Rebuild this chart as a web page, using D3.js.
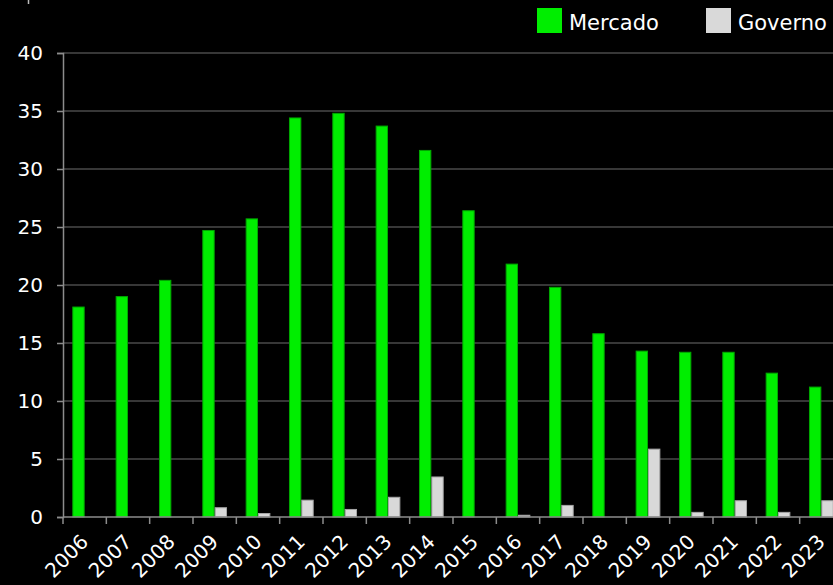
<!DOCTYPE html>
<html>
<head>
<meta charset="utf-8">
<script src="https://cdn.jsdelivr.net/npm/d3@7"></script>
<style>
  html, body { margin: 0; padding: 0; background: #000; overflow: hidden; }
  svg { display: block; }
  text { font-family: "DejaVu Sans", "Noto Sans", sans-serif; fill: #fff; }
</style>
</head>
<body>
<div id="chart"></div>
<script>
// chart data
const years = ['2006', '2007', '2008', '2009', '2010', '2011', '2012', '2013', '2014',
    '2015', '2016', '2017', '2018', '2019', '2020', '2021', '2022', '2023'];
const mercado = [18.1, 19.0, 20.4, 24.7, 25.7, 34.4, 34.8, 33.7, 31.6,
    26.4, 21.8, 19.8, 15.8, 14.3, 14.2, 14.2, 12.4, 11.2];
const governo = [0, 0, 0, 0.8, 0.3, 1.45, 0.65, 1.7, 3.45,
    0, 0.15, 1.0, 0, 5.85, 0.4, 1.4, 0.4, 1.4];
const seriesNames = ['Mercado', 'Governo'];
const yTicks = [0, 5, 10, 15, 20, 25, 30, 35, 40];

const width = 833, height = 585;
const margin = { top: 53, left: 63, bottom: 68 };
const plotRight = 843; // plot runs a bit past the window edge, as in the picture
const colors = { Mercado: '#00ee00', Governo: '#d9d9d9' };
const strokes = { Mercado: '#00a800', Governo: '#a6a6a6' };

const svg = d3.select('#chart')
    .append('svg')
    .attr('width', width)
    .attr('height', height);

const x = d3.scaleBand()
    .domain(years)
    .range([margin.left, plotRight])
    .paddingInner(0.43)
    .paddingOuter(0.215);

const xSub = d3.scaleBand()
    .domain(seriesNames)
    .range([0, x.bandwidth()]);

const y = d3.scaleLinear()
    .domain([0, 40])
    .range([height - margin.bottom, margin.top]);

// gridlines
svg.append('g')
    .selectAll('line')
    .data(yTicks.filter(d => d > 0))
    .join('line')
    .attr('x1', margin.left)
    .attr('x2', width)
    .attr('y1', d => y(d))
    .attr('y2', d => y(d))
    .attr('stroke', '#4a4a4a')
    .attr('stroke-width', 1.5);

// bars
const rows = years.map((yr, i) => ({ year: yr, Mercado: mercado[i], Governo: governo[i] }));

svg.append('g')
    .selectAll('g')
    .data(rows)
    .join('g')
    .attr('transform', d => 'translate(' + x(d.year) + ',0)')
    .selectAll('rect')
    .data(d => seriesNames.map(k => ({ key: k, value: d[k] })).filter(e => e.value > 0))
    .join('rect')
    .attr('x', d => xSub(d.key) + 0.5)
    .attr('y', d => y(d.value))
    .attr('width', xSub.bandwidth() - 1)
    .attr('height', d => y(0) - y(d.value))
    .attr('fill', d => colors[d.key])
    .attr('stroke', d => strokes[d.key])
    .attr('stroke-width', 1);

// y axis
const yAxis = svg.append('g')
    .attr('transform', 'translate(' + margin.left + ',0)')
    .call(d3.axisLeft(y).tickValues(yTicks).tickSize(6).tickPadding(14));
yAxis.select('.domain').attr('stroke', '#8c8c8c').attr('stroke-width', 1.5);
yAxis.selectAll('.tick line').attr('stroke', '#8c8c8c').attr('stroke-width', 1.5);
yAxis.selectAll('.tick text')
    .attr('font-size', 20)
    .attr('fill', '#fff');

// x axis: ticks at band edges
const xAxisG = svg.append('g')
    .attr('transform', 'translate(0,' + y(0) + ')');
xAxisG.append('line')
    .attr('x1', margin.left)
    .attr('x2', width)
    .attr('stroke', '#8c8c8c')
    .attr('stroke-width', 1.5);
xAxisG.selectAll('line.tk')
    .data(years)
    .join('line')
    .attr('class', 'tk')
    .attr('x1', (d, i) => margin.left + i * x.step())
    .attr('x2', (d, i) => margin.left + i * x.step())
    .attr('y1', 0)
    .attr('y2', 7)
    .attr('stroke', '#8c8c8c')
    .attr('stroke-width', 1.5);
xAxisG.selectAll('text')
    .data(years)
    .join('text')
    .attr('text-anchor', 'end')
    .attr('font-size', 20)
    .attr('transform', d => {
        let cx = x(d) + x.bandwidth() / 2;
        return 'translate(' + cx + ',21) rotate(-45)';
    })
    .attr('dy', '0.35em')
    .text(d => d);

// small stray tick at the top left
svg.append('line')
    .attr('x1', 28.5).attr('x2', 28.5)
    .attr('y1', 0).attr('y2', 4)
    .attr('stroke', '#bbb')
    .attr('stroke-width', 1.5);

// legend
const legend = svg.append('g');
const legendX = [537, 706];
seriesNames.forEach((name, i) => {
    legend.append('rect')
        .attr('x', legendX[i])
        .attr('y', 8)
        .attr('width', 25)
        .attr('height', 25)
        .attr('fill', colors[name]);
    legend.append('text')
        .attr('x', legendX[i] + 32)
        .attr('y', 30)
        .attr('font-size', 21)
        .text(name);
});
</script>
</body>
</html>
